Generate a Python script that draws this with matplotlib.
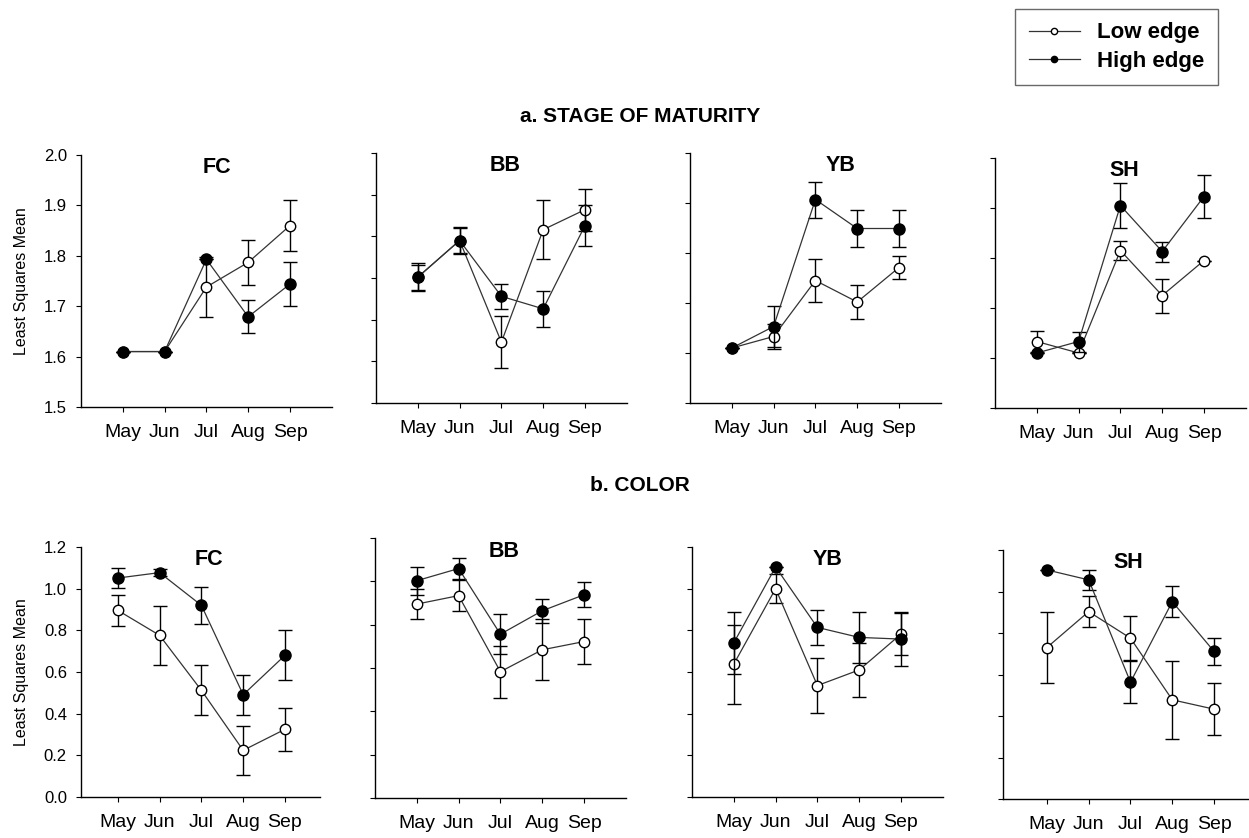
import matplotlib
matplotlib.use('Agg')
import matplotlib.pyplot as plt
from matplotlib.lines import Line2D
import numpy as np

plt.rcParams.update({
    'font.family': ['Liberation Sans', 'DejaVu Sans'],
    'axes.linewidth': 1.0,
})

MONTHS = ['May', 'Jun', 'Jul', 'Aug', 'Sep']
PANELS = ['FC', 'BB', 'YB', 'SH']

# a. stage of maturity, one row per panel (FC, BB, YB, SH)
mat_low = [[1.61, 1.61, 1.738, 1.787, 1.860],
           [1.702, 1.790, 1.546, 1.816, 1.864],
           [1.61, 1.633, 1.745, 1.702, 1.771],
           [1.633, 1.61, 1.815, 1.725, 1.795]]
mat_low_err = [[0, 0, 0.06, 0.045, 0.05],
               [0.03, 0.03, 0.063, 0.071, 0.05],
               [0, 0.025, 0.043, 0.034, 0.023],
               [0.021, 0, 0.019, 0.034, 0]]
mat_high = [[1.61, 1.61, 1.793, 1.679, 1.744],
            [1.702, 1.790, 1.656, 1.626, 1.826],
            [1.61, 1.653, 1.907, 1.849, 1.849],
            [1.61, 1.633, 1.905, 1.813, 1.923]]
mat_high_err = [[0, 0, 0, 0.033, 0.043],
                [0.034, 0.033, 0.03, 0.044, 0.05],
                [0, 0.041, 0.036, 0.037, 0.037],
                [0, 0.02, 0.045, 0.02, 0.043]]
mat_ylims = [(1.5, 2.0), (1.4, 2.0), (1.5, 2.0), (1.5, 2.0)]

# b. color
col_low = [[0.896, 0.776, 0.512, 0.224, 0.325],
           [0.895, 0.934, 0.583, 0.684, 0.722],
           [0.638, 1.0, 0.535, 0.61, 0.782],
           [0.73, 0.903, 0.775, 0.478, 0.433]]
col_low_err = [[0.076, 0.143, 0.12, 0.116, 0.104],
               [0.07, 0.07, 0.12, 0.14, 0.105],
               [0.19, 0.07, 0.133, 0.13, 0.1],
               [0.17, 0.076, 0.107, 0.187, 0.125]]
col_high = [[1.051, 1.077, 0.92, 0.491, 0.68],
            [1.003, 1.059, 0.756, 0.864, 0.938],
            [0.740, 1.104, 0.814, 0.766, 0.758],
            [1.104, 1.056, 0.563, 0.951, 0.711]]
col_high_err = [[0.05, 0.017, 0.09, 0.096, 0.12],
                [0.064, 0.05, 0.093, 0.056, 0.058],
                [0.15, 0, 0.084, 0.124, 0.13],
                [0, 0.05, 0.1, 0.076, 0.067]]
col_ylims = [(0, 1.2)] * 4

# layout in pixels: left, top, bottom, xlim
W, H = 1249, 838
SPACING = 41.8
TOP_BOXES = [(81, 155, 407, (-1, 5)), (376, 153, 403, (-1, 5)),
             (690, 153, 403, (-1, 5)), (995, 158, 408, (-1, 5))]
BOT_BOXES = [(81, 547, 797, (-0.88, 4.84)), (375, 538, 798, (-1, 5)),
             (692, 547, 797, (-1, 5)), (1003, 550, 799, (-1.05, 5))]
TOP_TITLE_X = [2.25, 2.1, 2.6, 2.1]
BOT_TITLE_X = [2.17, 2.1, 2.25, 1.95]
LINE = '#333333'

fig = plt.figure(figsize=(W / 100, H / 100), dpi=100)


def draw_panel(box, ylim, step, low, low_err, high, high_err, name, title_x, first):
    left, top, bottom, xlim = box
    width = (xlim[1] - xlim[0]) * SPACING
    ax = fig.add_axes([left / W, 1 - bottom / H, width / W, (bottom - top) / H])
    x = np.arange(len(MONTHS))
    ax.errorbar(x, low, yerr=low_err, color=LINE, lw=0.9, marker='o',
                ms=7.5, mfc='white', mec='black', mew=1.0, ecolor='black',
                elinewidth=1.0, capsize=5, capthick=1.0, zorder=2)
    ax.errorbar(x, high, yerr=high_err, color=LINE, lw=0.9, marker='o',
                ms=8, mfc='black', mec='black', ecolor='black',
                elinewidth=1.0, capsize=5, capthick=1.0, zorder=3)
    ax.set_xlim(*xlim)
    ax.set_ylim(*ylim)
    ax.set_xticks(x)
    ax.set_xticklabels(MONTHS, fontsize=14)
    ax.set_yticks(np.arange(ylim[0], ylim[1] + step / 2, step))
    if first:
        ax.set_yticklabels([f'{v:.1f}' for v in ax.get_yticks()], fontsize=12)
        ax.set_ylabel('Least Squares Mean', fontsize=11.5, labelpad=11)
    else:
        ax.set_yticklabels([])
    for s in ['top', 'right']:
        ax.spines[s].set_visible(False)
    ax.tick_params(axis='x', direction='out', length=3.6, pad=8.5)
    ax.tick_params(axis='y', direction='out', length=3.6, pad=6.5)
    ax.text(title_x, 0.95, name, transform=ax.get_xaxis_transform(),
            ha='center', va='center', fontsize=15.5, fontweight='bold')
    return ax


for i, name in enumerate(PANELS):
    draw_panel(TOP_BOXES[i], mat_ylims[i], 0.1, mat_low[i], mat_low_err[i],
               mat_high[i], mat_high_err[i], name, TOP_TITLE_X[i], i == 0)
    draw_panel(BOT_BOXES[i], col_ylims[i], 0.2, col_low[i], col_low_err[i],
               col_high[i], col_high_err[i], name, BOT_TITLE_X[i], i == 0)

fig.text(640 / W, 1 - 116 / H, 'a. STAGE OF MATURITY', ha='center', va='center',
         fontsize=15, fontweight='bold')
fig.text(640 / W, 1 - 485 / H, 'b. COLOR', ha='center', va='center',
         fontsize=15, fontweight='bold')

handles = [Line2D([], [], color=LINE, lw=0.9, marker='o', ms=4.5,
                  mfc='white', mec='black'),
           Line2D([], [], color=LINE, lw=0.9, marker='o', ms=4.5,
                  mfc='black', mec='black')]
leg = fig.legend(handles, ['Low edge', 'High edge'], loc='upper right',
                 bbox_to_anchor=(1218 / W, 1 - 9 / H), borderaxespad=0,
                 frameon=True, fancybox=False, edgecolor='#444444',
                 handlelength=2.3, labelspacing=0.35, borderpad=0.6,
                 handletextpad=0.8, prop={'weight': 'bold', 'size': 16})
leg.get_frame().set_linewidth(1.0)

fig.savefig('out.png', dpi=100)
